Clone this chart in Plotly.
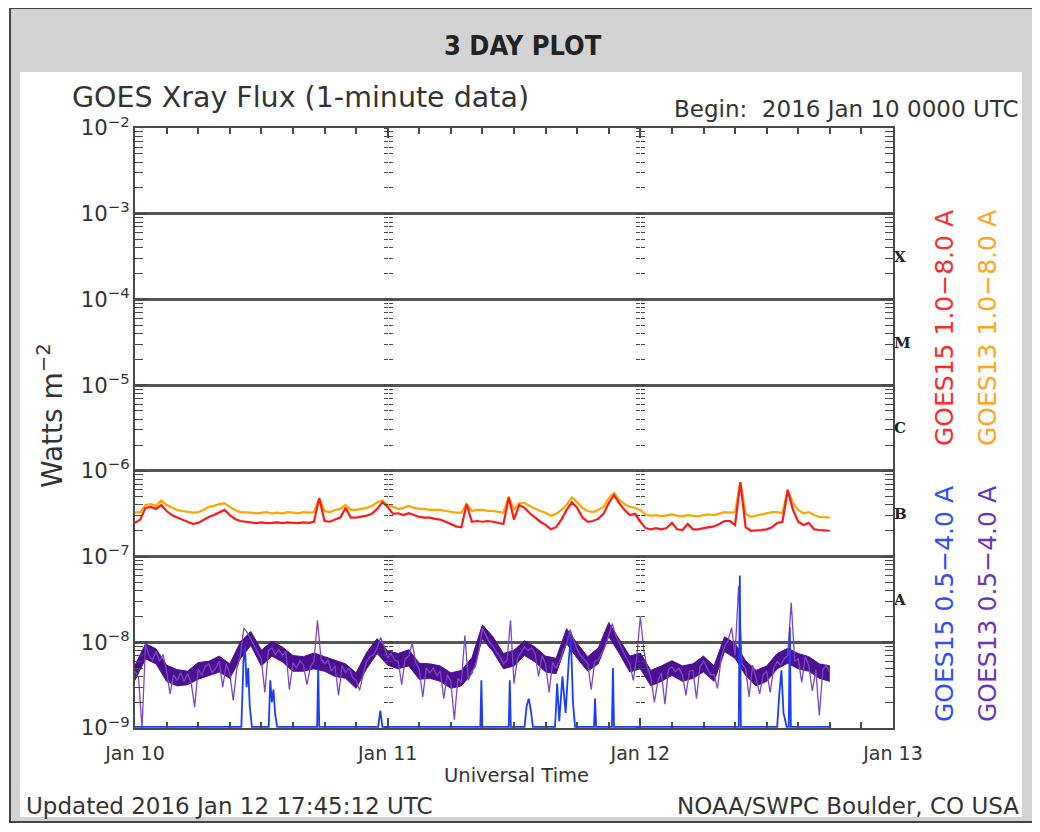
import plotly.graph_objects as go

# ---------------- data ----------------
long_step_h = 0.5          # hours between samples of the 1.0-8.0 A channels
short_step_h = 1.0 / 3.0   # hours between samples of the GOES13 0.5-4.0 A channel

# GOES13 1.0-8.0 A, units of 1e-7 W m^-2
goes13_long_e7 = [
    3.25, 3.3, 4.0, 4.1, 3.9, 4.5, 4.0, 3.7, 3.5, 3.4, 3.3, 3.25, 3.3, 3.5, 3.8, 3.9, 4.1, 4.2, 3.8, 3.5,
    3.3, 3.3, 3.25, 3.2, 3.25, 3.3, 3.2, 3.25, 3.2, 3.3, 3.25, 3.2, 3.3, 3.25, 3.3, 4.8, 3.4, 3.3, 3.5, 3.6,
    4.0, 3.5, 3.5, 3.6, 3.7, 3.9, 4.3, 4.5, 4.0, 3.8, 3.6, 3.7, 3.9, 3.7, 3.6, 3.6, 3.5, 3.5, 3.5, 3.4,
    3.3, 3.25, 3.25, 4.1, 3.4, 3.5, 3.5, 3.4, 3.4, 3.3, 3.25, 5.0, 3.5, 4.2, 4.2, 3.9, 3.6, 3.4, 3.25, 3.0,
    3.15, 3.5, 4.0, 4.9, 4.3, 3.7, 3.4, 3.3, 3.5, 3.8, 4.8, 5.5, 4.6, 4.1, 3.8, 3.7, 3.5, 3.05, 3.0, 3.05,
    2.95, 3.0, 3.1, 3.0, 2.95, 3.05, 3.0, 2.95, 3.05, 3.1, 3.05, 3.2, 3.3, 3.25, 3.3, 7.4, 3.15, 2.9, 3.0, 3.05,
    3.2, 3.3, 3.3, 3.2, 6.0, 4.2, 3.5, 3.2, 3.3, 3.05, 2.9, 2.85, 2.85,
]
# GOES15 1.0-8.0 A, units of 1e-7 W m^-2
goes15_long_e7 = [
    2.47, 2.7, 3.7, 3.8, 3.6, 4.0, 3.4, 3.05, 2.85, 2.7, 2.55, 2.4, 2.47, 2.7, 2.9, 3.05, 3.3, 3.5, 3.05, 2.75,
    2.6, 2.55, 2.5, 2.45, 2.5, 2.45, 2.47, 2.5, 2.45, 2.5, 2.47, 2.45, 2.5, 2.47, 2.55, 4.8, 2.6, 2.55, 2.7, 2.85,
    3.7, 2.85, 2.85, 2.9, 3.0, 3.15, 3.6, 4.3, 3.8, 3.15, 3.2, 3.05, 3.2, 3.05, 2.9, 2.85, 2.85, 2.75, 2.7, 2.55,
    2.4, 2.25, 2.2, 4.1, 2.55, 2.6, 2.55, 2.6, 2.55, 2.47, 2.4, 4.9, 2.7, 4.0, 3.7, 3.2, 2.85, 2.55, 2.34, 2.08,
    2.2, 2.7, 3.5, 4.3, 3.7, 2.85, 2.55, 2.6, 2.75, 3.15, 4.2, 5.2, 4.2, 3.5, 3.05, 3.15, 2.55, 2.15, 2.08, 2.15,
    2.08, 2.15, 2.47, 2.08, 2.04, 2.4, 2.08, 2.08, 2.15, 2.2, 2.25, 2.4, 2.6, 2.6, 2.34, 7.4, 2.2, 2.0, 2.04, 2.04,
    2.08, 2.2, 2.47, 2.55, 6.0, 3.5, 2.55, 2.34, 2.47, 2.08, 2.04, 2.0, 2.0,
]
# GOES13 0.5-4.0 A, units of 1e-9 W m^-2 (individual excursions, 20-min samples)
goes13_short_e9 = [
    4.6, 3.9, 1.0, 9.5, 7.0, 6.2, 7.8, 6.0, 7.2, 4.6, 2.5, 4.2, 3.6, 4.4, 3.5, 4.3, 3.4, 1.75,
    4.9, 4.1, 5.2, 5.6, 4.4, 5.0, 6.0, 3.0, 5.6, 4.3, 2.1, 4.9, 6.8, 14.6, 13.0, 11.0, 9.0, 7.6,
    6.4, 2.6, 8.0, 8.6, 7.2, 8.2, 7.0, 7.8, 2.8, 5.8, 5.0, 6.1, 5.4, 3.2, 5.2, 6.0, 18.0, 6.5,
    5.6, 6.2, 4.6, 5.3, 2.4, 5.4, 4.4, 5.0, 3.9, 3.6, 2.75, 4.2, 6.0, 6.8, 7.2, 8.5, 11.4, 9.0,
    6.6, 7.4, 6.2, 6.0, 3.2, 6.4, 6.9, 9.8, 5.8, 4.8, 2.3, 5.0, 4.4, 5.0, 4.1, 4.6, 2.2, 4.2,
    3.5, 1.25, 3.8, 3.4, 12.0, 3.6, 4.6, 5.2, 8.0, 14.6, 12.0, 10.0, 9.0, 7.6, 6.8, 5.6, 6.2, 18.0,
    3.3, 6.6, 7.6, 8.8, 8.0, 8.6, 7.4, 4.0, 7.0, 5.6, 2.6, 5.8, 5.0, 6.0, 8.0, 9.6, 14.0, 11.0,
    8.2, 7.0, 6.4, 5.7, 2.8, 6.0, 6.2, 7.4, 9.0, 12.0, 16.5, 12.0, 9.6, 8.0, 6.6, 5.6, 3.6, 6.8,
    20.0, 8.0, 5.0, 3.9, 2.0, 3.5, 4.4, 1.9, 4.8, 5.2, 4.5, 5.0, 4.2, 2.4, 4.6, 4.7, 2.2, 5.2,
    6.0, 5.0, 4.2, 4.2, 2.9, 6.5, 9.0, 10.5, 14.8, 7.0, 45.0, 5.5, 5.0, 2.3, 5.4, 3.8, 2.5, 4.2,
    4.6, 2.6, 5.0, 6.0, 5.4, 6.4, 7.0, 29.0, 6.0, 6.4, 3.4, 6.8, 5.4, 2.7, 4.8, 1.4, 4.8, 5.4,
    4.4,
]
# GOES13 0.5-4.0 A: hourly upper / lower edge of the dense noise band, units of 1e-9 W m^-2
goes13_short_band_hi_e9 = [
    5.4, 9.6, 8.4, 5.4, 4.8, 4.6, 5.8, 6.0, 6.9, 5.6, 10.0, 13.4, 8.1, 10.2, 8.8, 7.0, 6.8, 7.5, 6.8, 6.2,
    5.6, 4.4, 7.6, 11.0, 8.0, 7.4, 8.2, 5.7, 5.6, 5.3, 4.4, 4.7, 6.6, 16.0, 11.6, 7.4, 8.1, 10.4, 8.8, 6.9,
    6.5, 14.4, 9.7, 6.8, 8.6, 17.0, 11.0, 6.9, 7.5, 4.7, 5.3, 6.1, 5.3, 5.6, 6.9, 5.3, 11.6, 9.7, 6.1, 4.7,
    5.3, 7.4, 8.5, 7.4, 6.8, 5.6, 5.3,
]
goes13_short_band_lo_e9 = [
    3.6, 6.4, 5.6, 3.5, 3.1, 3.2, 3.7, 4.1, 4.5, 3.8, 6.4, 9.2, 5.3, 6.9, 5.9, 4.6, 4.6, 4.9, 4.6, 4.0,
    3.8, 2.9, 4.9, 7.4, 5.4, 4.9, 5.3, 3.7, 3.8, 3.5, 2.9, 3.1, 4.3, 11.0, 7.8, 4.9, 5.3, 7.0, 5.9, 4.5,
    4.3, 9.7, 6.5, 4.6, 5.6, 11.7, 7.4, 4.5, 4.9, 3.1, 3.5, 4.1, 3.5, 3.8, 4.5, 3.5, 7.8, 6.5, 4.1, 3.1,
    3.5, 4.9, 5.7, 4.9, 4.6, 3.8, 3.5,
]
# GOES15 0.5-4.0 A (sits on the 1e-9 floor most of the time), units of 1e-9 W m^-2
goes15_short_hours = [
    0.0, 10.1, 10.3, 10.45, 10.6, 10.75, 10.9, 11.1, 12.7, 12.85, 13.0, 13.15, 13.3, 13.5,
    17.3, 17.4, 17.5, 23.1, 23.3, 23.5, 32.8, 32.9, 33.0, 35.5, 35.6, 35.7,
    37.0, 37.2, 37.4, 37.6, 37.8, 39.9, 40.1, 40.3, 40.6, 40.9, 41.2, 41.4, 41.6, 41.8,
    43.6, 43.7, 43.8, 45.3, 45.4, 45.5, 57.35, 57.45, 57.55,
    61.0, 61.2, 61.4, 61.6, 61.9, 62.1, 62.2, 62.3, 66.0,
]
goes15_short_e9 = [
    1.03, 1.03, 6.0, 9.0, 3.0, 5.0, 1.8, 1.03, 1.03, 3.6, 2.0, 2.8, 1.5, 1.03,
    1.03, 5.1, 1.03, 1.03, 1.6, 1.03, 1.03, 3.6, 1.03, 1.03, 3.6, 1.03,
    1.03, 1.8, 2.2, 1.6, 1.03, 1.03, 3.3, 1.2, 4.0, 1.5, 6.0, 12.0, 2.0, 1.03,
    1.03, 2.2, 1.03, 1.03, 5.0, 1.03, 1.03, 60.0, 1.03,
    1.03, 2.5, 4.7, 1.5, 1.03, 1.03, 15.0, 1.03, 1.03,
]

day_tick_hours = [0, 24, 48, 72]
day_tick_labels = ["Jan 10", "Jan 11", "Jan 12", "Jan 13"]
class_labels = ["X", "M", "C", "B", "A"]
class_mid_exponents = [-3.5, -4.5, -5.5, -6.5, -7.5]
y_range_exp = [-9, -2]
x_range_h = [0, 72]

# ---------------- derived series ----------------
long_hours = [i * long_step_h for i in range(len(goes13_long_e7))]
short_hours = [i * short_step_h for i in range(len(goes13_short_e9))]
band_hours = list(range(len(goes13_short_band_hi_e9)))
g13_long = [v * 1e-7 for v in goes13_long_e7]
g15_long = [v * 1e-7 for v in goes15_long_e7]
g13_short = [v * 1e-9 for v in goes13_short_e9]
g13_hi = [v * 1e-9 for v in goes13_short_band_hi_e9]
g13_lo = [v * 1e-9 for v in goes13_short_band_lo_e9]
g15_short = [v * 1e-9 for v in goes15_short_e9]

# ---------------- geometry / style ----------------
W, H = 1040, 832
OFF = 8  # the page places the figure 8px from the top-left corner

def Xp(px):
    return (px - OFF) / W

def Yp(py):
    return 1 - (py - OFF) / H

DOM_X = [Xp(135), Xp(893)]
DOM_Y = [Yp(728), Yp(128)]
FONT = "DejaVu Sans"
TXT = "#333333"
AX = "#4a4a4a"
PURPLE = "#4b0f8f"

fig = go.Figure()
fig.add_trace(go.Scatter(x=long_hours, y=g13_long, mode="lines",
                         line=dict(color="#ffa500", width=2.2)))
fig.add_trace(go.Scatter(x=long_hours, y=g15_long, mode="lines",
                         line=dict(color="#ff1a1a", width=2.2)))
fig.add_trace(go.Scatter(x=band_hours, y=g13_lo, mode="lines",
                         line=dict(color=PURPLE, width=1)))
fig.add_trace(go.Scatter(x=band_hours, y=g13_hi, mode="lines", fill="tonexty",
                         fillcolor=PURPLE, line=dict(color=PURPLE, width=1)))
fig.add_trace(go.Scatter(x=short_hours, y=g13_short, mode="lines",
                         line=dict(color="#7a48c4", width=1.3)))
fig.add_trace(go.Scatter(x=goes15_short_hours, y=g15_short, mode="lines",
                         line=dict(color="#1a3cff", width=1.8)))
for ya in ["y2", "y3", "y4", "y5", "y6"]:
    fig.add_trace(go.Scatter(x=[None], y=[None], yaxis=ya, mode="lines",
                             hoverinfo="skip", showlegend=False))

fig.update_layout(
    width=W, height=H, autosize=False,
    margin=dict(l=0, r=0, t=0, b=0, pad=0, autoexpand=False),
    paper_bgcolor="white", plot_bgcolor="white",
    showlegend=False,
    xaxis=dict(
        domain=DOM_X, range=x_range_h, tickmode="array", automargin=False,
        tickvals=day_tick_hours, ticktext=day_tick_labels,
        ticks="inside", ticklen=10, tickwidth=1.5, tickcolor=AX,
        showline=True, linecolor=AX, linewidth=2, mirror="ticks",
        showgrid=False, zeroline=False, ticklabelstandoff=7,
        minor=dict(tickmode="linear", tick0=0, dtick=3, ticks="inside",
                   ticklen=6, tickwidth=1.5, tickcolor=AX, showgrid=False),
        tickfont=dict(family=FONT, size=19, color=TXT),
    ),
    yaxis=dict(
        domain=DOM_Y, type="log", range=y_range_exp, dtick=1, automargin=False,
        exponentformat="power", showexponent="all",
        ticks="inside", ticklen=12, tickwidth=1.5, tickcolor=AX,
        showline=True, linecolor=AX, linewidth=2, mirror="ticks",
        showgrid=True, gridcolor="#555555", gridwidth=2.5, zeroline=False,
        minor=dict(ticks="inside", ticklen=8, tickwidth=1.3, tickcolor=AX,
                   dtick="D1", showgrid=False),
        tickfont=dict(family=FONT, size=17, color=TXT),
    ),
    yaxis2=dict(
        overlaying="y", side="right", anchor="x", type="log", range=y_range_exp,
        automargin=False, tickmode="array",
        tickvals=[10 ** e for e in class_mid_exponents],
        ticktext=class_labels, ticks="", showgrid=False, showline=False, zeroline=False,
        tickfont=dict(family="DejaVu Serif", size=15, color="#222222", weight="bold"),
    ),
)

def x_frac(h):
    return DOM_X[0] + (h - x_range_h[0]) / (x_range_h[1] - x_range_h[0]) * (DOM_X[1] - DOM_X[0])

col_axes = {}
names = ["yaxis3", "yaxis4", "yaxis5", "yaxis6"]
k = 0
for h in day_tick_hours[1:3]:
    for direction in ["inside", "outside"]:
        col_axes[names[k]] = dict(
            overlaying="y", anchor="free", position=x_frac(h), type="log",
            range=y_range_exp, dtick=1, showticklabels=False, showline=False,
            automargin=False, showgrid=False, zeroline=False, ticks=direction, ticklen=4,
            tickwidth=1.5, tickcolor=AX,
            minor=dict(ticks=direction, ticklen=4, tickwidth=1.3, tickcolor=AX,
                       dtick="D1", showgrid=False),
        )
        k += 1
fig.update_layout(**col_axes)

# outer grey frame and inner white panel
fig.add_shape(type="rect", xref="paper", yref="paper", x0=Xp(10), x1=Xp(1033),
              y0=Yp(822), y1=Yp(8), fillcolor="#d3d3d3",
              line=dict(color="#444444", width=2), layer="below")
fig.add_shape(type="rect", xref="paper", yref="paper", x0=Xp(20), x1=Xp(1022),
              y0=Yp(817), y1=Yp(72), fillcolor="white",
              line=dict(width=0), layer="below")

def ann(text, x, y, size, xanchor="center", color=TXT, angle=0, family=FONT):
    fig.add_annotation(text=text, x=Xp(x), y=Yp(y), xref="paper", yref="paper",
                       showarrow=False, xanchor=xanchor, yanchor="middle", textangle=angle,
                       font=dict(family=family, size=size, color=color))

ann("<b>3 DAY PLOT</b>", 523, 46, 27, color="#222222",
    family="DejaVu Sans Condensed, Liberation Sans Narrow, Roboto, sans-serif")
ann("GOES Xray Flux (1-minute data)", 70, 98, 28.5, xanchor="left")
ann("Begin:  2016 Jan 10 0000 UTC", 1021, 109, 23, xanchor="right")
ann("Watts m<sup>−2</sup>", 50, 416, 28, angle=-90)
ann("Universal Time", 516, 775, 19.5)
ann("Updated 2016 Jan 12 17:45:12 UTC", 24, 806, 23, xanchor="left")
ann("NOAA/SWPC Boulder, CO USA", 1021, 806, 23, xanchor="right")
ann("GOES15 1.0−8.0 A", 944, 328, 25, color="#ff2a2a", angle=-90)
ann("GOES13 1.0−8.0 A", 987, 328, 25, color="#ffa520", angle=-90)
ann("GOES15 0.5−4.0 A", 944, 604, 25, color="#2f4dff", angle=-90)
ann("GOES13 0.5−4.0 A", 987, 604, 25, color="#6a35b8", angle=-90)

fig.write_html("out.html")
